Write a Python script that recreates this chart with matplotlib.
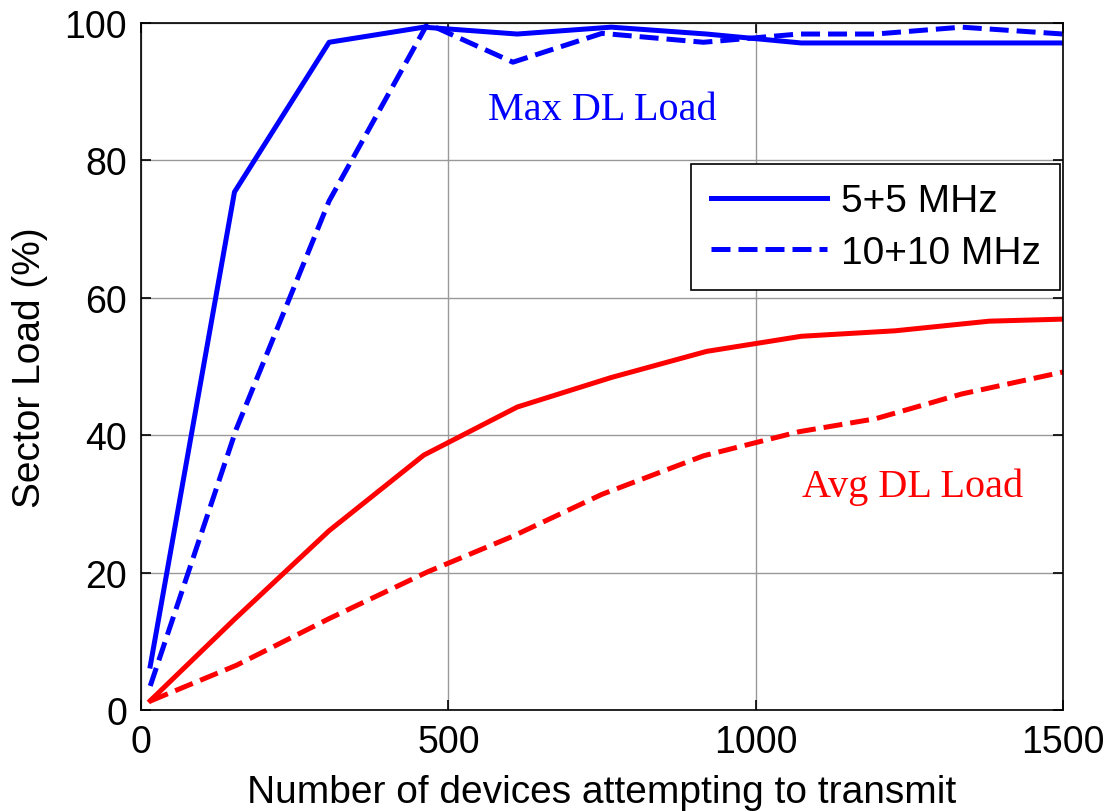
import matplotlib as mpl
mpl.use('Agg')
import matplotlib.pyplot as plt

# values
x_5 = [15, 152, 306, 460, 612, 765, 920, 1074, 1227, 1380, 1500]
x_10 = [15, 155, 306, 466, 605, 750, 915, 1070, 1195, 1335, 1500]

max_5 = [6.4, 75.4, 97.2, 99.4, 98.4, 99.4, 98.4, 97.1, 97.1, 97.1, 97.1]
max_10 = [3.5, 40.9, 74.1, 99.9, 94.3, 98.5, 97.2, 98.4, 98.4, 99.4, 98.4]
avg_5 = [1.35, 13.2, 26.1, 37.1, 44.1, 48.4, 52.2, 54.4, 55.2, 56.6, 56.9]
avg_10 = [1.3, 6.5, 13.3, 20.1, 25.3, 31.4, 37.0, 40.5, 42.4, 46.0, 49.2]

names = ["5+5 MHz", "10+10 MHz"]
xticks = [0, 500, 1000, 1500]
yticks = [0, 20, 40, 60, 80, 100]

plt.rcParams['font.family'] = ['Liberation Sans', 'DejaVu Sans']

fig = plt.figure(figsize=(11.07, 8.12), dpi=100)
ax = fig.add_axes([0.1274, 0.1244, 0.8329, 0.846])

lw = 3.6
dash = (3.8, 1.6)
l1, = ax.plot(x_5, max_5, '-', color=(0, 0, 1), linewidth=lw)
l2, = ax.plot(x_10, max_10, '--', color=(0, 0, 1), linewidth=lw, dashes=dash)
ax.plot(x_5, avg_5, '-', color=(1, 0, 0), linewidth=lw)
ax.plot(x_10, avg_10, '--', color=(1, 0, 0), linewidth=lw, dashes=dash)

ax.set_xlim(0, 1500)
ax.set_ylim(0, 100)
ax.set_xticks(xticks)
ax.set_yticks(yticks)
ax.tick_params(direction='in', length=7, width=1.2, labelsize=27,
               top=True, right=True, pad=10)
ax.grid(True, color='#999999', linewidth=1.0)
for s in ax.spines.values():
    s.set_linewidth(1.2)

ax.set_xlabel("Number of devices attempting to transmit", fontsize=28, labelpad=10)
ax.set_ylabel("Sector Load (%)", fontsize=28, labelpad=12)

ax.text(564, 86.0, "Max DL Load", color=(0, 0, 1), fontsize=29,
        family=['Liberation Serif', 'DejaVu Serif'])
ax.text(1076, 31.2, "Avg DL Load", color=(1, 0, 0), fontsize=29,
        family=['Liberation Serif', 'DejaVu Serif'])

leg = ax.legend([l1, l2], names, loc='upper right', bbox_to_anchor=(0.997, 0.795),
                borderaxespad=0, fontsize=28, handlelength=3.0, handletextpad=0.35,
                labelspacing=0.4, borderpad=0.5, fancybox=False,
                edgecolor='black', framealpha=1)
leg.get_frame().set_linewidth(1.2)

plt.savefig("out.png", dpi=100)
